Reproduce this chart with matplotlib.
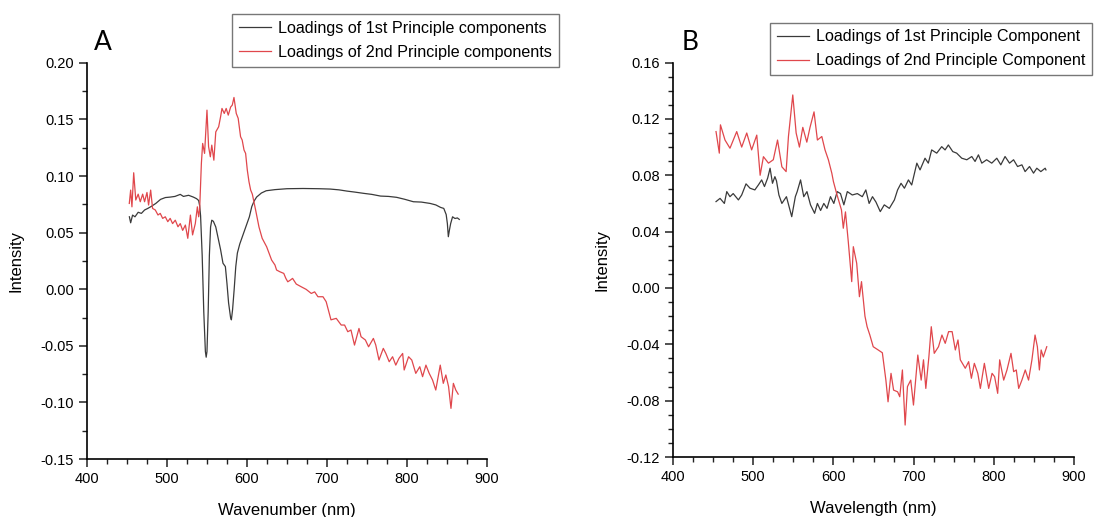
import matplotlib.pyplot as plt
from matplotlib.ticker import MultipleLocator, FormatStrFormatter

# ---- panel A data ----
a_wn_pc1 = [453, 454.6, 457, 460, 464, 468, 472, 476, 480, 486, 492, 498, 504, 510, 516.6, 520.6,
            527, 533, 537, 539.6, 540.8, 542, 544, 546, 548, 549, 550, 551.5, 553, 554.5, 556, 558,
            561, 564, 567, 570, 573, 575, 577, 579.5, 580.5, 582, 584, 586, 588, 591, 594, 597, 600,
            603, 606, 609, 612, 618, 624, 635, 650, 670, 690, 704, 715, 725, 735, 746, 756, 767, 777,
            787, 797, 808, 818, 829, 836, 842, 846, 849, 850.5, 851.7, 853, 854.6, 857, 860, 863, 865.4]
a_pc1 = [0.064, 0.0587, 0.0655, 0.064, 0.068, 0.067, 0.070, 0.0714, 0.073, 0.0758, 0.0794, 0.081,
         0.0814, 0.082, 0.0838, 0.082, 0.083, 0.0814, 0.080, 0.0784, 0.074, 0.065, 0.030, -0.020,
         -0.055, -0.060, -0.055, -0.020, 0.030, 0.055, 0.061, 0.060, 0.055, 0.045, 0.035, 0.023,
         0.020, 0.005, -0.012, -0.025, -0.027, -0.018, 0.000, 0.020, 0.032, 0.040, 0.046, 0.052,
         0.058, 0.064, 0.073, 0.078, 0.0814, 0.085, 0.087, 0.088, 0.0888, 0.089, 0.0888, 0.0885,
         0.0878, 0.0867, 0.0858, 0.0847, 0.0838, 0.0823, 0.0820, 0.0812, 0.0795, 0.0773, 0.0770,
         0.0758, 0.0745, 0.0723, 0.0714, 0.066, 0.058, 0.0464, 0.052, 0.058, 0.064, 0.0625, 0.0630,
         0.0617]

a_wn_pc2 = [452.9, 454.6, 456.2, 458.4, 461, 464, 466.6, 469.6, 472, 475, 477, 479.6, 482, 485.4,
            488.75, 491.6, 494.6, 497.9, 501, 504, 507, 510.4, 513.75, 516.6, 519.6, 523, 526,
            529.3, 532, 535.4, 538, 539.6, 540.8, 543, 544.6, 547, 550, 552, 554.2, 556, 558.6, 561,
            564.6, 567, 568.75, 571.6, 574, 576.6, 579.6, 581.6, 583.75, 586.6, 589, 592, 594, 596.3,
            598.3, 600.4, 602.5, 604.6, 606.7, 610.8, 615, 619, 624.6, 630.8, 635, 637, 641, 646,
            648.6, 651, 654, 657, 661.6, 667.8, 674, 680.4, 684.6, 688.7, 695, 699, 705, 711.6,
            717.8, 722, 726, 730, 734.4, 740, 742.6, 748, 752, 758, 761, 765, 770.4, 773.6, 777.8,
            782, 786, 790, 794.6, 796.5, 802, 806, 811, 816, 819.5, 823.7, 827.8, 832, 836, 841.6,
            845.4, 848.6, 852, 855, 858, 861, 864]
a_pc2 = [0.0758, 0.0876, 0.0728, 0.1029, 0.0788, 0.084, 0.0773, 0.084, 0.0773, 0.0855, 0.0744,
         0.0876, 0.0714, 0.070, 0.0656, 0.067, 0.0626, 0.064, 0.0597, 0.0626, 0.058, 0.061, 0.0552,
         0.058, 0.052, 0.0567, 0.045, 0.0655, 0.0480, 0.058, 0.0728, 0.064, 0.070, 0.1112, 0.1288,
         0.120, 0.1582, 0.126, 0.117, 0.1273, 0.114, 0.139, 0.1435, 0.1523, 0.1597, 0.1553, 0.1597,
         0.1538, 0.161, 0.1626, 0.1694, 0.1553, 0.151, 0.1347, 0.1318, 0.123, 0.120, 0.1053, 0.095,
         0.0876, 0.084, 0.070, 0.055, 0.045, 0.0375, 0.0258, 0.0214, 0.0170, 0.0155, 0.014, 0.0096,
         0.0066, 0.008, 0.0096, 0.0046, 0.0022, -0.0001, -0.0037, -0.0023, -0.0066, -0.0066,
         -0.011, -0.027, -0.0257, -0.0316, -0.0316, -0.0375, -0.036, -0.0493, -0.0346, -0.0419,
         -0.0448, -0.0508, -0.0434, -0.0493, -0.0625, -0.0522, -0.0567, -0.064, -0.0596, -0.067,
         -0.061, -0.0567, -0.0713, -0.0596, -0.0625, -0.0743, -0.0684, -0.0772, -0.067, -0.0743,
         -0.0802, -0.089, -0.067, -0.0831, -0.0757, -0.086, -0.1052, -0.0831, -0.089, -0.0926]

# ---- panel B data ----
b_wl_pc1 = [453.6, 458.6, 464, 467, 471, 475, 481.5, 485.6, 491, 496, 502, 506.5, 510.5, 514,
            518, 521, 524, 527, 529, 532, 535.7, 541.4, 548, 552.5, 554.8, 559, 563, 567, 571.4,
            576.5, 580, 584, 588, 592, 596.3, 600.5, 604.7, 608.8, 613, 617.3, 623.5, 629.8, 636,
            640.4, 644.5, 648.7, 653, 658.4, 663.4, 669.7, 676, 680, 684.3, 688.5, 693.5, 697.6,
            704, 708, 714.2, 718.3, 722.5, 728.8, 735, 739.2, 743.3, 748.8, 753.7, 760, 766.3,
            772.5, 776.6, 780.8, 785, 791, 797.4, 803.7, 808.7, 814, 819.6, 824.6, 829.6, 835, 839,
            844.5, 849.5, 853.6, 858.6, 864, 865]
b_pc1 = [0.0613, 0.0636, 0.060, 0.0684, 0.0648, 0.067, 0.0625, 0.066, 0.0739, 0.0708, 0.0696,
         0.0732, 0.0767, 0.072, 0.078, 0.085, 0.0743, 0.079, 0.0760, 0.066, 0.060, 0.0648, 0.0506,
         0.0648, 0.0684, 0.0767, 0.0648, 0.0684, 0.059, 0.053, 0.060, 0.055, 0.060, 0.0565,
         0.0648, 0.060, 0.0684, 0.067, 0.059, 0.0684, 0.066, 0.067, 0.0648, 0.0696, 0.060, 0.0648,
         0.061, 0.0542, 0.059, 0.0565, 0.0625, 0.0696, 0.0743, 0.0708, 0.0767, 0.0731, 0.0886,
         0.0838, 0.0921, 0.0886, 0.098, 0.0957, 0.1003, 0.098, 0.1015, 0.0968, 0.0957, 0.0921,
         0.091, 0.0933, 0.0898, 0.0945, 0.0886, 0.091, 0.0886, 0.0921, 0.0874, 0.0933, 0.0886,
         0.091, 0.0862, 0.0874, 0.0826, 0.0862, 0.0815, 0.085, 0.0826, 0.085, 0.0838]

b_wl_pc2 = [453.6, 457.7, 459.1, 464.8, 471, 479.4, 485.6, 491.9, 498, 504.4, 508.6, 512.7, 519,
            525, 530.3, 535.7, 541, 543.9, 549.3, 553.5, 557.6, 561.8, 566.8, 570.8, 575.8, 580,
            585.5, 589.5, 593.7, 598, 600, 604, 610, 612.3, 615, 618.5, 622.8, 624.8, 629, 632.4,
            635, 639.3, 642, 645.4, 649.6, 655.8, 661, 665.4, 668.1, 671.8, 675, 680, 682.7, 686,
            689.4, 692.3, 696.4, 699.8, 705.2, 709.4, 712.3, 715.2, 719, 722, 725.7, 731, 735.3,
            739.4, 743.6, 748, 752, 755.3, 758.2, 764.4, 768.6, 772, 775.7, 780, 783.2, 788.2, 793.6,
            797.8, 801, 804.8, 807.3, 812.3, 816.4, 821.4, 824.7, 828, 831, 835, 839.2, 843.3,
            847.5, 851.4, 854.3, 856.8, 859, 861.7, 866]
b_pc2 = [0.111, 0.0957, 0.1158, 0.105, 0.0992, 0.111, 0.100, 0.110, 0.098, 0.1085, 0.080, 0.0932,
         0.0886, 0.091, 0.105, 0.086, 0.0826, 0.1075, 0.137, 0.110, 0.100, 0.114, 0.1035, 0.114,
         0.125, 0.105, 0.1075, 0.098, 0.091, 0.0814, 0.0755, 0.067, 0.0554, 0.0424, 0.054, 0.0329,
         0.0045, 0.0293, 0.0175, -0.0062, 0.0045, -0.020, -0.0275, -0.0334, -0.0417, -0.044,
         -0.046, -0.0654, -0.0808, -0.0606, -0.0725, -0.0737, -0.0772, -0.0582, -0.0973, -0.070,
         -0.0654, -0.0831, -0.0476, -0.0654, -0.051, -0.0713, -0.049, -0.0275, -0.0464, -0.0417,
         -0.0334, -0.0393, -0.031, -0.031, -0.044, -0.0369, -0.051, -0.057, -0.0523, -0.0641,
         -0.0535, -0.0606, -0.0713, -0.0535, -0.0713, -0.0606, -0.063, -0.0748, -0.051, -0.0654,
         -0.0582, -0.0464, -0.0594, -0.0582, -0.0713, -0.0654, -0.0582, -0.0654, -0.051, -0.0334,
         -0.0417, -0.0582, -0.044, -0.049, -0.0417]

plt.rcParams['font.family'] = ['Liberation Sans', 'DejaVu Sans']

black = '#3a3a3a'
red = '#e0474c'

fig = plt.figure(figsize=(11.01, 5.17), dpi=100)
ax_a = fig.add_axes([0.079, 0.112, 0.3633, 0.7665])
ax_b = fig.add_axes([0.6113, 0.116, 0.3642, 0.763])

legend_kw = dict(loc='upper left', bbox_transform=fig.transFigure, borderaxespad=0,
                 fancybox=False, edgecolor='#777777', fontsize=11.6, handlelength=2.0,
                 labelspacing=0.56, borderpad=0.42, handletextpad=0.45, framealpha=1)


def style_axes(ax, ymin, ymax, ymajor, yminor, yfmt):
    for side in ['top', 'right']:
        ax.spines[side].set_visible(False)
    ax.spines['left'].set_linewidth(1.2)
    ax.spines['bottom'].set_linewidth(1.2)
    ax.set_xlim(400, 900)
    ax.set_ylim(ymin, ymax)
    ax.xaxis.set_major_locator(MultipleLocator(100))
    ax.xaxis.set_minor_locator(MultipleLocator(25))
    ax.yaxis.set_major_locator(MultipleLocator(ymajor))
    ax.yaxis.set_minor_locator(MultipleLocator(yminor))
    ax.yaxis.set_major_formatter(FormatStrFormatter(yfmt))
    ax.tick_params(which='major', length=6, width=1.1, labelsize=10.5, color='#222222')
    ax.tick_params(which='minor', length=3.5, width=1.0, color='#222222')
    ax.set_ylabel('Intensity', fontsize=12, labelpad=12)


style_axes(ax_a, -0.15, 0.20, 0.05, 0.025, '%.2f')
ax_a.plot(a_wn_pc1, a_pc1, color=black, lw=0.9, label='Loadings of 1st Principle components')
ax_a.plot(a_wn_pc2, a_pc2, color=red, lw=0.9, label='Loadings of 2nd Principle components')
ax_a.set_xlabel('Wavenumber (nm)', fontsize=12, labelpad=12)
ax_a.legend(bbox_to_anchor=(232 / 1101, 1 - 14 / 517), **legend_kw)
fig.text(103 / 1101, 1 - 43 / 517, 'A', fontsize=19, family='Lato', ha='center', va='center')

style_axes(ax_b, -0.12, 0.16, 0.04, 0.01, '%.2f')
ax_b.plot(b_wl_pc1, b_pc1, color=black, lw=0.9, label='Loadings of 1st Principle Component')
ax_b.plot(b_wl_pc2, b_pc2, color=red, lw=0.9, label='Loadings of 2nd Principle Component')
ax_b.set_xlabel('Wavelength (nm)', fontsize=12, labelpad=12)
ax_b.legend(bbox_to_anchor=(770 / 1101, 1 - 22.7 / 517), **legend_kw)
fig.text(690 / 1101, 1 - 42 / 517, 'B', fontsize=19, family='Lato', ha='center', va='center')

fig.savefig('out.png', dpi=100)
